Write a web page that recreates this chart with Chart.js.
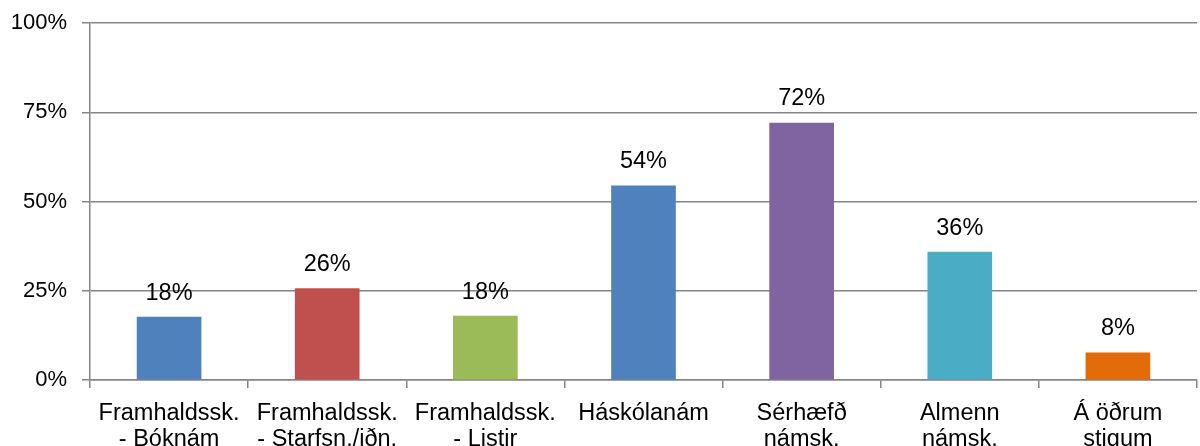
<!DOCTYPE html>
<html>
<head>
<meta charset="utf-8">
<script src="https://cdn.jsdelivr.net/npm/chart.js@4"></script>
<style>
  html, body { margin: 0; padding: 0; background: #fff; }
  #wrap { width: 1200px; height: 446px; }
</style>
</head>
<body>
<div id="wrap"><canvas id="eduChart" width="1200" height="446"></canvas></div>
<script>
// categories and values
const categories = [
  ["Framhaldssk.", "- Bóknám"],
  ["Framhaldssk.", "- Starfsn./iðn."],
  ["Framhaldssk.", "- Listir"],
  ["Háskólanám"],
  ["Sérhæfð", "námsk."],
  ["Almenn", "námsk."],
  ["Á öðrum", "stigum"]
];
const values = [17.6, 25.6, 17.9, 54.4, 72.0, 35.8, 7.6];
const barColors = ["#4F81BD", "#C0504D", "#9BBB59", "#4F81BD", "#8064A2", "#4BACC6", "#E36C09"];
const yTicks = [0, 25, 50, 75, 100];

const FONT = "'Liberation Sans', Arial, sans-serif";
const gridColor = "#868686";

// draw the % value above each bar
const valueLabels = {
  id: "valueLabels",
  afterDatasetsDraw(chart) {
    const ctx = chart.ctx;
    const meta = chart.getDatasetMeta(0);
    ctx.save();
    ctx.font = "23.5px " + FONT;
    ctx.fillStyle = "#000";
    ctx.textAlign = "center";
    ctx.textBaseline = "middle";
    meta.data.forEach((bar, i) => {
      ctx.fillText(Math.round(values[i]) + "%", bar.x, bar.y - 24);
    });
    ctx.restore();
  }
};

const ctx = document.getElementById("eduChart").getContext("2d");
const eduChart = new Chart(ctx, {
  type: "bar",
  data: {
    labels: categories,
    datasets: [{
      data: values,
      backgroundColor: barColors,
      barThickness: 64
    }]
  },
  options: {
    responsive: false,
    animation: false,
    layout: { padding: { top: 23, right: 3, left: 0, bottom: 0 } },
    plugins: {
      legend: { display: false },
      tooltip: { enabled: false }
    },
    scales: {
      x: {
        grid: {
          offset: true,
          drawOnChartArea: false,
          drawTicks: true,
          tickLength: 8,
          color: gridColor,
          lineWidth: 1.5
        },
        border: { display: true, color: gridColor, width: 1.5 },
        ticks: {
          color: "#000",
          font: { family: FONT, size: 23.5, lineHeight: 1.1 },
          padding: 13,
          maxRotation: 0,
          autoSkip: false
        },
        afterFit(scale) {
          scale.height = 66;
          scale.paddingLeft = 0;
          scale.paddingRight = 0;
        }
      },
      y: {
        min: 0,
        max: 100,
        afterBuildTicks(scale) { scale.ticks = yTicks.map(v => ({ value: v })); },
        grid: { color: gridColor, tickLength: 8, lineWidth: 1.5 },
        border: { display: true, color: gridColor, width: 1.5 },
        ticks: {
          color: "#000",
          font: { family: FONT, size: 22 },
          padding: 15,
          callback: v => v + "%"
        },
        afterFit(scale) {
          scale.width = 90;
          scale.paddingTop = 0;
          scale.paddingBottom = 0;
        }
      }
    }
  },
  plugins: [valueLabels]
});
</script>
</body>
</html>
